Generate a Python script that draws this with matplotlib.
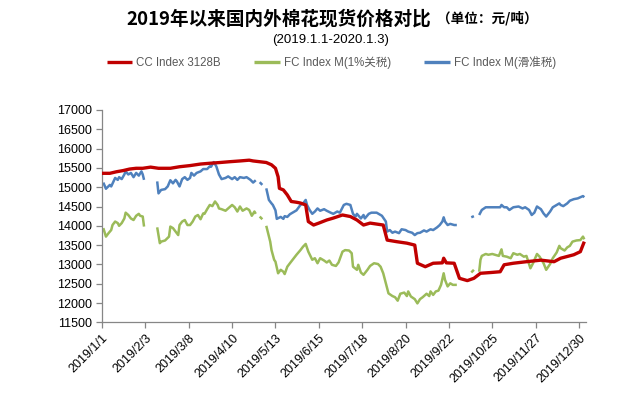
import numpy as np
import pandas as pd
import matplotlib
matplotlib.use("Agg")
import matplotlib.pyplot as plt

# days since 2019-01-01; nan marks a break in the series (holidays)
START = pd.Timestamp("2019-01-01")
NAN = np.nan

cc_days = [0, 6, 11, 16, 21, 26, 31, 37, 43, 52, 59, 67, 75, 82, 90, 97, 105, 112, 115, 120,
           125, 129, 132, 134, 135, 138, 141, 144, 148,
           151, 155, 157, 161, 165, 171, 176, 183, 189, 194, 199, 204, 214, 217, 224, 232, 238,
           240, 246, 252, 259, 260, 262, 268, 272, 278, 283, 288, 296, 303, 306, 313, 323, 334,
           344, 349, 359, 364, 367]
cc_vals = [15360, 15360, 15400, 15430, 15470, 15490, 15490, 15520, 15490, 15490,
           15530, 15560, 15600, 15620, 15640, 15660, 15680, 15700, 15680, 15660,
           15640, 15580, 15490, 15270, 14970, 14930, 14800, 14630, 14610,
           14590, 14540, 14110, 14020, 14070, 14150, 14200, 14280, 14240, 14150,
           14020, 14070, 14020, 13630, 13590, 13550, 13500, 13030, 12940, 13030,
           13040, 13160, 13040, 13030, 12640, 12580, 12640, 12770, 12790, 12810,
           12990, 13030, 13070, 13110, 13070, 13160, 13250, 13330, 13590]

fc1_days = [1, 3, 5, 7, 8, 10, 12, 13, 15, 17, 18, 20, 22, 24, 26, 28, 29, 31, 32, 37,
            42, 44, 45, 48, 51, 52, 54, 56, 58, 59, 61, 63, 65, 67, 69, 71, 73, 75, 77, 78,
            80, 82, 84, 86, 88, 89, 91, 94, 96, 99, 101, 103, 105, 107, 110, 112, 114, 116, 117,
            118, 120, 122, 123,
            125, 127, 128, 129, 131, 132, 134, 136, 138, 139, 141, 143, 146, 148,
            151, 153, 155, 157, 160, 162, 164, 166, 169, 171, 173, 175, 178, 180, 183, 185,
            188, 190, 191, 194, 195, 197, 199, 202, 204, 207, 210, 212, 214, 216, 218, 221,
            223, 225, 227, 230, 232, 233, 235, 238, 240, 242, 244, 247, 249, 250, 252, 254,
            256, 258, 260, 261, 263, 265, 267, 270,
            275, 281, 283, 285,
            287, 288, 289, 292, 294, 297, 299, 302, 304, 305, 308, 311, 313, 316, 318, 321,
            323, 326, 328, 331, 333, 336, 338, 341, 343, 346, 348, 349, 352, 354, 356, 358,
            361, 364, 366, 367]
fc1_vals = [13940, 13720, 13810, 13890, 14020, 14110, 14070, 14000, 14070, 14190,
            14340, 14280, 14190, 14150, 14260, 14310, 14260, 14240, 13980, NAN,
            13960, 13550, 13590, 13620, 13720, 13980, 13940, 13850, 13760, 14020,
            14110, 14150, 14020, 14020, 14110, 14240, 14280, 14170, 14320, 14310,
            14430, 14540, 14510, 14630, 14540, 14450, 14430, 14390, 14450, 14540,
            14480, 14370, 14500, 14390, 14450, 14410, 14260, 14370, 14310,
            NAN, 14240, 14170, NAN,
            14000, 13720, 13590, 13370, 13120, 13070, 12770, 12860, 12810, 12750,
            12940, 13030, 13160, 13250,
            13370, 13460, 13530, 13330, 13120, 13160, 13030, 13160, 13100, 13050,
            13100, 12990, 12960, 13050, 13330, 13370, 13360, 13290, 12940, 12860,
            12990, 12790, 12730, 12860, 12960, 13030, 13010, 12940, 12770, 12510,
            12250, 12180, 12150, 12060, 12240, 12270, 12180, 12300, 12170, 12100,
            11990, 12100, 12150, 12240, 12180, 12300, 12210, 12300, 12320, 12470,
            12770, 12600, 12430, 12510, 12470, 12470,
            NAN, 12790, 12860, NAN,
            12810, 13120, 13220, 13270, 13250, 13270, 13250, 13220, 13390, 13220,
            13200, 13160, 13290, 13250, 13270, 13200, 13220, 12900, 13030, 13270,
            13200, 13030, 12860, 13010, 13160, 13310, 13480, 13420, 13360, 13440,
            13480, 13590, 13620, 13630, 13720, 13650]

fcs_days = [1, 3, 6, 7, 10, 12, 13, 15, 17, 18, 20, 22, 24, 26, 28, 30, 31, 32, 37,
            42, 43, 45, 48, 50, 52, 54, 56, 57, 59, 61, 63, 65, 67, 68, 70, 72, 75, 77, 80,
            82, 83, 85, 87, 89, 91, 94, 96, 99, 101, 103, 105, 108, 110, 113, 115, 117,
            118, 120, 122, 123,
            125, 127, 129, 130, 132, 133, 136, 138, 139, 141, 143, 146, 148,
            151, 153, 155, 156, 158, 160, 162, 164, 166, 169, 171, 174, 176, 179, 181, 184,
            186, 189, 191, 193, 194, 197, 199, 200, 203, 205, 209, 213, 216, 217, 219, 221,
            223, 226, 228, 231, 233, 236, 238, 240, 242, 245, 247, 250, 252, 255, 257, 259,
            260, 261, 263, 265, 268, 270,
            275, 281, 283, 285,
            287, 289, 292, 296, 299, 303, 304, 306, 308, 310, 313, 317, 320, 322, 325, 327,
            329, 331, 334, 336, 338, 341, 343, 346, 348, 349, 351, 354, 356, 359, 362, 364,
            366, 367]
fcs_vals = [15120, 14960, 15060, 15020, 15240, 15190, 15260, 15210, 15330, 15410,
            15330, 15370, 15260, 15370, 15300, 15410, 15330, 15190, NAN,
            15150, 14840, 14930, 14950, 15020, 15180, 15100, 15190, 15150, 15020,
            15210, 15260, 15190, 15240, 15370, 15300, 15370, 15410, 15470, 15470,
            15540, 15530, 15650, 15540, 15330, 15210, 15240, 15280, 15210, 15260,
            15190, 15260, 15240, 15260, 15190, 15120, 15180,
            NAN, 15130, 15060, NAN,
            14970, 14670, 14580, 14540, 14400, 14180, 14230, 14180, 14250, 14230,
            14300, 14360, 14400,
            14540, 14580, 14670, 14540, 14410, 14310, 14370, 14450, 14390, 14430,
            14390, 14340, 14310, 14370, 14340, 14540, 14570, 14540, 14310, 14240,
            14310, 14190, 14280, 14190, 14310, 14340, 14340, 14260, 14110, 13850,
            13890, 13820, 13850, 13810, 13910, 13890, 13850, 13820, 13760, 13810,
            13820, 13880, 13850, 13910, 13890, 13960, 14020, 14110, 14220, 14110,
            14020, 14050, 14020, 14020,
            NAN, 14220, 14250, NAN,
            14280, 14410, 14480, 14480, 14480, 14480, 14540, 14480, 14480, 14410,
            14480, 14500, 14450, 14480, 14410, 14280, 14340, 14500, 14430, 14320,
            14240, 14370, 14480, 14540, 14580, 14540, 14510, 14580, 14650, 14690,
            14710, 14740, 14770, 14740]

xtick_labels = ["2019/1/1", "2019/2/3", "2019/3/8", "2019/4/10", "2019/5/13", "2019/6/15",
                "2019/7/18", "2019/8/20", "2019/9/22", "2019/10/25", "2019/11/27", "2019/12/30"]

C_CC = "#C00000"
C_FC1 = "#9BBB59"
C_FCS = "#4F81BD"
TXT = ["Liberation Sans", "Noto Sans CJK SC"]
CJK = ["Noto Sans CJK SC", "DejaVu Sans"]


def to_dates(days):
    return START + pd.to_timedelta(days, unit="D")


fig = plt.figure(figsize=(6.28, 3.96), dpi=100)
ax = fig.add_axes([102 / 628, 1 - 322.3 / 396, 484 / 628, 212.3 / 396])

kw = dict(solid_joinstyle="round", solid_capstyle="butt")
ax.plot(to_dates(cc_days), cc_vals, color=C_CC, lw=2.4, label="CC Index 3128B", zorder=3, **kw)
ax.plot(to_dates(fc1_days), fc1_vals, color=C_FC1, lw=1.8, label="FC Index M(1%关税)", zorder=2, **kw)
ax.plot(to_dates(fcs_days), fcs_vals, color=C_FCS, lw=1.8, label="FC Index M(滑准税)", zorder=2, **kw)

ax.set_ylim(11500, 17000)
ax.set_yticks(np.arange(11500, 17001, 500))
ax.set_yticklabels([f"{v}" for v in range(11500, 17001, 500)], fontsize=9, family=TXT)
ax.set_xlim(START, START + pd.Timedelta(days=368.3))
xt = pd.to_datetime(xtick_labels, format="%Y/%m/%d")
ax.set_xticks(xt)
ax.set_xticklabels(xtick_labels, rotation=45, ha="right", rotation_mode="anchor",
                   fontsize=9, family=TXT)

for s in ("top", "right"):
    ax.spines[s].set_visible(False)
for s in ("left", "bottom"):
    ax.spines[s].set_color("#868686")
    ax.spines[s].set_linewidth(0.9)
ax.tick_params(axis="both", direction="out", length=4, width=0.9, color="#868686",
               labelcolor="#000000", pad=3)

fig.text(126 / 628, 1 - 19 / 396, "2019年以来国内外棉花现货价格对比", fontsize=13.4,
         fontweight="bold", family=CJK, ha="left", va="center")
fig.text(437 / 628, 1 - 18 / 396, "（单位：元/吨）", fontsize=9.8,
         fontweight="bold", family=CJK, ha="left", va="center")
fig.text(331 / 628, 1 - 40 / 396, "(2019.1.1-2020.1.3)", fontsize=9.5,
         family=TXT, ha="center", va="center")

leg = fig.legend(loc="center", bbox_to_anchor=(331.5 / 628, 1 - 63 / 396), ncol=3,
                 frameon=False, handlelength=2.2, handletextpad=0.35, columnspacing=2.9,
                 prop={"family": TXT, "size": 8.3})
for t in leg.get_texts():
    t.set_color("#595959")
for h in leg.get_lines():
    h.set_linewidth(2.4)

fig.savefig("out.png", dpi=100)
